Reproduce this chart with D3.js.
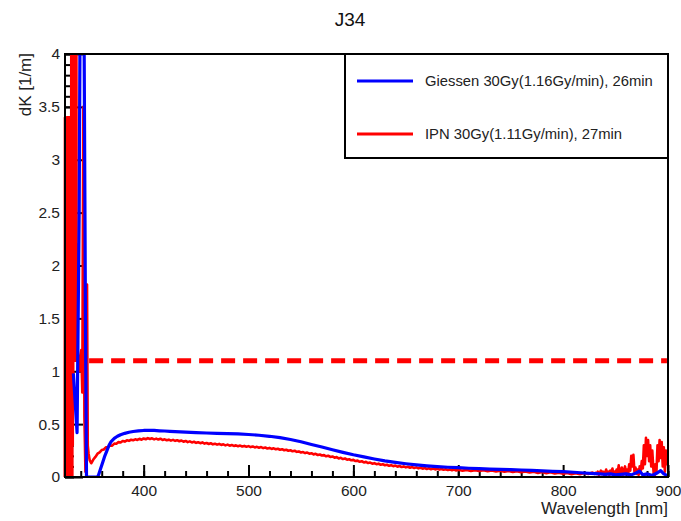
<!DOCTYPE html>
<html><head><meta charset="utf-8">
<script src="https://cdn.jsdelivr.net/npm/d3@7"></script>
<style>body{margin:0;background:#fff}svg{display:block}</style>
</head><body>
<svg id="chart" width="681" height="521"></svg>
<script>
const titleText = "J34";
const xTitle = "Wavelength [nm]";
const yTitle = "dK [1/m]";
const seriesNames = ["Giessen 30Gy(1.16Gy/min), 26min", "IPN 30Gy(1.11Gy/min), 27min"];
const seriesColors = ["#0000ff", "#ff0000"];
const xMajorTicks = [400, 500, 600, 700, 800, 900];
const yMajorTicks = [0, 0.5, 1, 1.5, 2, 2.5, 3, 3.5, 4];
const thresholdValue = 1.1;
const thresholdRange = [348, 899];

// Giessen [wavelength nm, dK]
const giessen = [
[333,0.98],[336.5,0.42],[338.5,2.5],[339.5,4.6],[343,4.6],[344.5,1.5],[345.5,0],[356,0],
[357,0.02],[359,0.08],[361,0.14],[363,0.2],[365,0.25],[367,0.3],[369,0.335],[372,0.365],
[375,0.385],[378,0.4],[382,0.413],[386,0.423],[390,0.43],[395,0.436],[400,0.44],[405,0.442],
[410,0.44],[415,0.437],[420,0.435],[425,0.432],[430,0.43],[440,0.425],[450,0.42],[460,0.416],
[470,0.413],[480,0.41],[490,0.407],[500,0.402],[510,0.395],[520,0.385],[530,0.372],[540,0.355],
[550,0.333],[560,0.308],[570,0.283],[580,0.258],[590,0.233],[600,0.21],[610,0.19],[620,0.17],
[630,0.152],[640,0.138],[650,0.125],[660,0.114],[670,0.105],[680,0.098],[690,0.092],[700,0.088],
[710,0.083],[720,0.079],[730,0.075],[740,0.072],[750,0.069],[760,0.066],[770,0.062],[780,0.058],
[790,0.054],[800,0.05],[810,0.045],[820,0.038],[830,0.032],[835,0.03],[840,0.025],[845,0.03],
[850,0.02],[855,0.025],[860,0.03],[865,0.02],[870,0.04],[873,0.055],[876,0.02],[880,0.03],
[885,0.015],[890,0.04],[893,0.06],[896,0.03],[900,0.01]
];

// IPN [wavelength nm, dK]
const ipn = [
[324.8,0.0],[325.0,3.4],[325.2,0.0],[325.4,3.4],[325.6,0.0],[325.8,3.4],[326.0,0.0],[326.2,3.4],
[326.4,0.0],[326.6,3.3],[326.8,0.0],[327.0,3.4],[327.2,0.0],[327.4,3.4],[327.6,0.0],[327.8,3.4],
[328.0,0.0],[328.2,3.4],[328.4,0.0],[328.6,3.4],[328.8,0.0],[329.0,3.4],[329.2,0.0],[329.4,3.4],
[329.6,0.0],[329.8,3.4],[330.0,0.0],[330.2,3.4],[330.4,0.0],[330.6,3.4],[330.8,0.0],[331.0,4.5],
[331.2,0.0],[331.4,4.5],[331.6,0.0],[331.8,4.5],[332.0,0.0],[332.2,4.5],[332.4,0.3],[332.6,4.5],
[332.8,0.8],[333.0,4.5],[333.2,1.2],[333.4,4.5],[333.7,1.1],[334.0,4.5],[334.3,1.3],
[334.6,4.5],[334.9,1.2],[335.2,4.5],[335.5,1.1],[335.8,4.5],[336.1,1.2],[336.6,2.2],[337.2,1.2],
[338.5,1.0],[340.5,1.2],[341.5,0.8],[342.5,3.5],[343.5,0.57],[344.5,0.05],[345.3,0.3],[346,1.82],
[346.7,0.3],[347.5,0.22],[348.5,0.16],
[350,0.13],[352,0.165],[354,0.19],[356,0.22],[358,0.232],[360,0.255],[362,0.26],[364,0.281],
[366,0.283],[368,0.298],[370,0.297],[372,0.316],[374,0.314],[376,0.33],[378,0.326],[380,0.341],
[382,0.335],[384,0.347],[386,0.342],[388,0.352],[390,0.347],[392,0.356],[394,0.35],[396,0.361],
[398,0.353],[400,0.364],[402,0.357],[404,0.368],[406,0.359],[408,0.366],[410,0.356],[412,0.363],
[414,0.354],[416,0.362],[418,0.35],[420,0.356],[422,0.347],[424,0.353],[426,0.344],[428,0.351],
[430,0.342],[432,0.348],[434,0.338],[436,0.345],[438,0.334],[440,0.341],[442,0.33],[444,0.337],
[446,0.327],[448,0.333],[450,0.323],[452,0.329],[454,0.32],[456,0.327],[458,0.316],[460,0.322],
[462,0.312],[464,0.319],[466,0.309],[468,0.315],[470,0.306],[472,0.313],[474,0.303],[476,0.309],
[478,0.299],[480,0.306],[482,0.296],[484,0.302],[486,0.294],[488,0.299],[490,0.291],[492,0.297],
[494,0.288],[496,0.294],[498,0.286],[500,0.292],[502,0.283],[504,0.289],[506,0.28],[508,0.285],
[510,0.277],[512,0.283],[514,0.273],[516,0.279],[518,0.269],[520,0.275],[522,0.266],[524,0.271],
[526,0.262],[528,0.267],[530,0.258],[532,0.263],[534,0.253],[536,0.258],[538,0.248],[540,0.253],
[542,0.243],[544,0.248],[546,0.238],[548,0.242],[550,0.232],[552,0.236],[554,0.226],[556,0.231],
[558,0.22],[560,0.225],[562,0.214],[564,0.219],[566,0.208],[568,0.213],[570,0.203],[572,0.207],
[574,0.196],[576,0.201],[578,0.19],[580,0.194],[582,0.183],[584,0.188],[586,0.176],[588,0.181],
[590,0.17],[592,0.175],[594,0.164],[596,0.168],[598,0.158],[600,0.162],[602,0.151],[604,0.155],
[606,0.144],[608,0.149],[610,0.138],[612,0.143],[614,0.132],[616,0.137],[618,0.126],[620,0.131],
[622,0.121],[624,0.126],[626,0.116],[628,0.121],[630,0.111],[632,0.116],[634,0.106],[636,0.112],
[638,0.102],[640,0.108],[642,0.098],[644,0.104],[646,0.094],[648,0.1],[650,0.091],[652,0.097],
[654,0.088],[656,0.094],[658,0.085],[660,0.091],[662,0.082],[664,0.088],[666,0.079],[668,0.085],
[670,0.076],[672,0.082],[674,0.074],[676,0.08],[678,0.072],[680,0.078],[682,0.07],[684,0.076],
[686,0.068],[688,0.074],[690,0.066],[692,0.072],[694,0.064],[696,0.07],[698,0.062],[700,0.068],
[704,0.06],[708,0.066],[712,0.058],[716,0.065],[720,0.056],[724,0.063],[728,0.054],[732,0.061],
[736,0.052],[740,0.06],[744,0.05],[748,0.058],[752,0.048],[756,0.055],[760,0.045],[764,0.052],
[768,0.042],[772,0.05],[776,0.039],[780,0.047],[784,0.036],[788,0.044],[792,0.033],[796,0.041],
[800,0.03],[804,0.038],[808,0.027],[812,0.036],[816,0.026],[820,0.037],[824,0.028],[828,0.042],
[830,0.03],[831,0.04],[832,0.03],[833,0.05],[834,0.02],[835,0.04],[836,0.06],[837,0.03],[838,0.05],
[839,0.02],[840,0.04],[841,0.07],[842,0.03],[843,0.05],[844,0.02],[845,0.06],[846,0.04],[847,0.08],
[848,0.03],[849,0.05],[850,0.02],[851,0.07],[852,0.04],[853,0.11],[854,0.03],[855,0.06],[856,0.09],
[857,0.02],[858,0.05],[859,0.1],[860,0.04],[861,0.07],[862,0.03],[863,0.12],[864,0.06],[865,0.2],
[866,0.1],[867,0.21],[868,0.05],[869,0.09],[870,0.03],[871,0.07],[872,0.02],[873,0.1],[874,0.05],
[875,0.15],[876,0.08],[877,0.3],[878,0.12],[879,0.37],[880,0.2],[881,0.35],[882,0.15],[883,0.3],
[884,0.1],[885,0.25],[886,0.08],[887,-0.06],[888,0.12],[889,0.05],[890,0.3],[891,0.15],[892,0.35],
[893,0.18],[894,0.33],[895,0.1],[896,0.28],[897,0.05],[898,0.25],[899,0.12],[900,0.22]
];

const svg = d3.select("#chart");
const L = 65, R = 668, T = 54, B = 477;
const x = d3.scaleLinear().domain([325, 900]).range([L, R]);
const y = d3.scaleLinear().domain([0, 4]).range([B, T]);
const font = "'Liberation Sans', Arial, Helvetica, sans-serif";

svg.append("defs").append("clipPath").attr("id", "clip")
  .append("rect").attr("x", L - 2).attr("y", T).attr("width", R - L + 2).attr("height", B - T);

const xMinor = d3.range(340, 901, 20);
svg.append("g").attr("transform", `translate(0,${B})`)
  .call(d3.axisBottom(x).tickValues(xMinor).tickSize(-6).tickFormat(""))
  .call(g => { g.select(".domain").remove(); g.selectAll("line").attr("stroke", "#000").attr("stroke-width", 2); });
svg.append("g").attr("transform", `translate(0,${B})`)
  .call(d3.axisBottom(x).tickValues(xMajorTicks).tickSize(-12).tickPadding(8).tickFormat(d3.format("d")))
  .call(g => { g.select(".domain").remove(); g.selectAll("line").attr("stroke", "#000").attr("stroke-width", 2);
    g.selectAll("text").attr("font-family", font).attr("font-size", 15.5).attr("fill", "#222"); });

const yMinor = d3.range(0, 4.001, 0.1);
svg.append("g").attr("transform", `translate(${L},0)`)
  .call(d3.axisLeft(y).tickValues(yMinor).tickSize(-9).tickFormat(""))
  .call(g => { g.select(".domain").remove(); g.selectAll("line").attr("stroke", "#000").attr("stroke-width", 2); });
svg.append("g").attr("transform", `translate(${L},0)`)
  .call(d3.axisLeft(y).tickValues(yMajorTicks).tickSize(-18).tickPadding(5).tickFormat(d3.format("~g")))
  .call(g => { g.select(".domain").remove(); g.selectAll("line").attr("stroke", "#000").attr("stroke-width", 2);
    g.selectAll("text").attr("font-family", font).attr("font-size", 15.5).attr("fill", "#222"); });

const plot = svg.append("g").attr("clip-path", "url(#clip)");
const line = d3.line().x(d => x(d[0])).y(d => y(d[1]));

plot.append("path").datum(ipn).attr("d", line).attr("fill", "none")
  .attr("stroke", seriesColors[1]).attr("stroke-width", 2.6).attr("stroke-linejoin", "round");
plot.append("path").datum(giessen).attr("d", line).attr("fill", "none")
  .attr("stroke", seriesColors[0]).attr("stroke-width", 3.2).attr("stroke-linejoin", "round");

plot.append("line")
  .attr("x1", x(thresholdRange[0])).attr("x2", x(thresholdRange[1]))
  .attr("y1", y(thresholdValue)).attr("y2", y(thresholdValue))
  .attr("stroke", seriesColors[1]).attr("stroke-width", 5).attr("stroke-dasharray", "14,8");

svg.append("rect").attr("x", L).attr("y", T).attr("width", R - L).attr("height", B - T)
  .attr("fill", "none").attr("stroke", "#000").attr("stroke-width", 2);

const lg = svg.append("g");
lg.append("rect").attr("x", 345).attr("y", T).attr("width", R - 345).attr("height", 104)
  .attr("fill", "#fff").attr("stroke", "#000").attr("stroke-width", 2);
const legY = [81, 134];
seriesNames.forEach((name, i) => {
  lg.append("line").attr("x1", 357).attr("x2", 413).attr("y1", legY[i]).attr("y2", legY[i])
    .attr("stroke", seriesColors[i]).attr("stroke-width", 3);
  lg.append("text").attr("x", 425).attr("y", legY[i]).attr("dy", "0.35em")
    .attr("font-family", font).attr("font-size", 14.8).attr("fill", "#222").text(name);
});

svg.append("text").attr("x", 350).attr("y", 26).attr("text-anchor", "middle")
  .attr("font-family", font).attr("font-size", 19).attr("fill", "#111").text(titleText);
svg.append("text").attr("x", R).attr("y", 514).attr("text-anchor", "end")
  .attr("font-family", font).attr("font-size", 17).attr("fill", "#222").text(xTitle);
svg.append("text").attr("transform", `translate(31,${T - 1}) rotate(-90)`).attr("text-anchor", "end")
  .attr("font-family", font).attr("font-size", 17).attr("fill", "#222").text(yTitle);
</script>
</body></html>
